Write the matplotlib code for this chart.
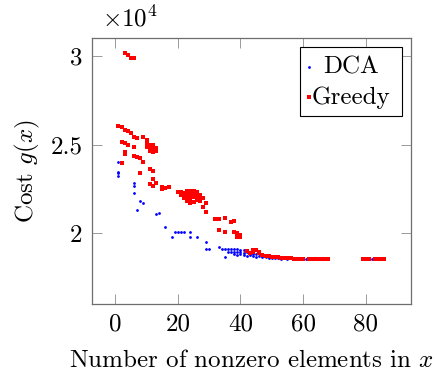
import matplotlib
matplotlib.use("Agg")
import matplotlib.pyplot as plt
from matplotlib.patches import Rectangle

plt.rcParams['font.family'] = 'serif'
plt.rcParams['font.serif'] = ['cmr10']
plt.rcParams['mathtext.fontset'] = 'cm'
plt.rcParams['axes.unicode_minus'] = False
plt.rcParams['axes.formatter.use_mathtext'] = True

# ---- data ----
dca_x = [1, 1, 1, 1, 6, 6, 6, 7, 8, 9, 13, 14, 16, 18, 19, 20, 21, 22,
         24, 24, 26, 29, 29, 30, 33, 35,
         34, 35, 36, 37, 38, 39, 40, 41, 42,
         36, 37, 38, 39, 40, 41, 42, 43, 44, 45,
         38, 39, 40, 41, 42, 43, 44, 45, 46, 47, 48, 49, 50, 51, 52, 53, 55,
         61, 82]
dca_y = [24030, 23460, 23370, 23200, 22800, 22670, 22240, 21300, 21810, 21710,
         21060, 21150, 20320, 19790, 20040, 20040, 20040, 20040,
         20040, 19760, 19790, 19510, 19100, 19100, 19230, 18640,
         19100, 19100, 19100, 19080, 19100, 19080, 19050, 19050, 19000,
         18950, 18900, 18950, 18900, 18900, 18850, 18900, 18850, 18800, 18800,
         18800, 18750, 18800, 18750, 18700, 18750, 18700, 18650, 18700, 18650,
         18650, 18600, 18600, 18600, 18580, 18560, 18550,
         18530, 18530]

greedy_x = [3, 4, 5, 6,
            1, 2, 3, 4, 5, 6, 7,
            9, 10, 10, 11, 12, 12, 11, 10, 11, 12, 13, 13, 11, 12,
            2, 3, 4, 6, 3, 3, 2, 6, 7, 8, 9, 11, 12, 8, 12, 11, 13, 12,
            15, 16, 15, 17,
            20, 21, 22, 23, 24, 25, 26,
            21, 22, 23, 24, 25, 26, 27,
            22, 23, 24, 25, 26, 27, 28,
            23, 24, 25, 26, 27,
            29, 28, 29,
            32, 33, 35, 37, 38, 33, 35, 38, 39, 40, 39, 40,
            42, 44, 45, 46, 44, 46, 43,
            47, 48, 49, 50, 51, 52, 53, 54, 55, 56, 57, 58, 59, 60, 62, 63,
            64, 65, 66, 67, 68,
            79, 80, 81, 83, 84, 85, 86]
greedy_y = [30190, 30060, 29870, 29870,
            26050, 25970, 25820, 25780, 25670, 25410, 25350,
            25400, 25250, 25100, 25000, 25000, 24880, 24900, 24850, 24750,
            24700, 24800, 24650, 24650, 24550,
            25160, 25070, 24970, 24840, 24600, 24470, 23970, 24370, 24310,
            24250, 24000, 23600, 23520, 23410, 23030, 22770, 22840, 22670,
            22620, 22530, 22470, 22580,
            22300, 22300, 22250, 22350, 22400, 22350, 22300,
            22150, 22100, 22200, 22150, 22200, 22100, 22150,
            21950, 22000, 21900, 22050, 21950, 21950, 22000,
            21800, 21700, 21750, 21850, 21800,
            21700, 21450, 21170,
            20790, 20790, 20830, 20640, 20700, 20170, 20070, 20050, 19980,
            19890, 19760, 19800,
            18980, 19040, 19040, 18940, 18900, 18880, 18850,
            18760, 18720, 18690, 18660, 18640, 18620, 18600, 18600, 18580,
            18570, 18560, 18560, 18550, 18550, 18540, 18530,
            18530, 18530, 18530, 18530, 18530,
            18530, 18530, 18530, 18530, 18530, 18530, 18530]

x_ticks = [0, 20, 40, 60, 80]
y_ticks = [20000, 25000, 30000]
y_tick_labels = ['2', '2.5', '3']

FS = 18

# ---- figure ----
W, H = 437, 376
fig = plt.figure(figsize=(W / 100, H / 100), dpi=100)
L, R, T, B = 92, 411, 38, 304
ax = fig.add_axes([L / W, 1 - B / H, (R - L) / W, (B - T) / H])

ax.plot(dca_x, dca_y, linestyle='none', marker='o', ms=2.0, mew=0,
        color='#0000ff', zorder=3)
ax.plot(greedy_x, greedy_y, linestyle='none', marker='s', ms=2.6, mew=0,
        color='#ff0000', zorder=4)

ax.set_xlim(-7.44, 94.47)
ax.set_ylim(15990, 31017)
ax.set_xticks(x_ticks)
ax.set_xticklabels([str(v) for v in x_ticks])
ax.set_yticks(y_ticks)
ax.set_yticklabels(y_tick_labels)

for s in ax.spines.values():
    s.set_color('#6e6e6e')
    s.set_linewidth(0.9)
ax.tick_params(axis='both', direction='in', length=7.2, width=0.7,
               color='#9a9a9a', labelsize=FS, top=True, right=True)
ax.tick_params(axis='y', pad=7)
ax.tick_params(axis='x', pad=6.5)

# legend (drawn manually to match centered entries)
ax.add_patch(Rectangle((0.652, 0.707), 0.320, 0.259, transform=ax.transAxes,
                       facecolor='white', edgecolor='black', linewidth=0.8,
                       zorder=5))
ax.plot([0.680], [0.890], transform=ax.transAxes, linestyle='none',
        marker='o', ms=2.0, mew=0, color='#0000ff', zorder=6, clip_on=False)
ax.plot([0.680], [0.779], transform=ax.transAxes, linestyle='none',
        marker='s', ms=2.6, mew=0, color='#ff0000', zorder=6, clip_on=False)
ax.text(0.813, 0.867, 'DCA', transform=ax.transAxes, ha='center',
        va='baseline', fontsize=FS, zorder=6)
ax.text(0.813, 0.752, 'Greedy', transform=ax.transAxes, ha='center',
        va='baseline', fontsize=FS, zorder=6)

fig.text(101.7 / W, 1 - 26.7 / H, r'$\times10^4$', ha='left', va='baseline',
         fontsize=FS)
fig.text(251.5 / W, 1 - 367 / H, r'Number of nonzero elements in $x$',
         ha='center', va='baseline', fontsize=FS)
fig.text(33 / W, 1 - 171 / H, r'Cost $g(x)$', ha='center', va='baseline',
         rotation=90, rotation_mode='anchor', fontsize=FS)

fig.savefig('out.png', dpi=100)
